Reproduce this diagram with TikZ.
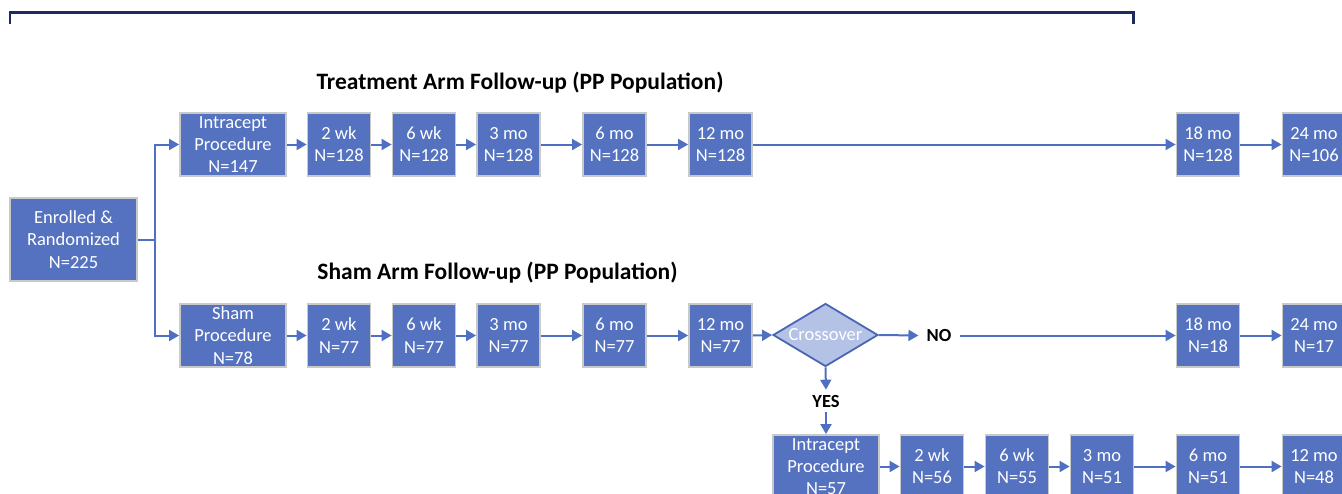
\documentclass[tikz,border=0pt]{standalone}
\usepackage{fontspec}
\setmainfont{Carlito}
\usetikzlibrary{arrows.meta,shapes.geometric}
\definecolor{boxfill}{HTML}{5472C0}
\definecolor{boxborder}{HTML}{C9C9C9}
\definecolor{arrowc}{HTML}{4F6FC2}
\definecolor{diafill}{HTML}{B4C2E6}
\definecolor{diaborder}{HTML}{4A65B3}
\definecolor{navy}{HTML}{1C2A5E}
\tikzset{
  box/.style={draw=boxborder, fill=boxfill, line width=1.8pt, text=white, align=center,
    inner sep=0pt, minimum height=63pt, font=\fontsize{18.5}{22.2}\selectfont},
  wbox/.style={box, minimum width=106pt},
  sbox/.style={box, minimum width=63pt},
  arr/.style={draw=arrowc, line width=2pt, -{Triangle[length=10pt,width=11pt]}},
  ln/.style={draw=arrowc, line width=2pt},
  ttl/.style={font=\fontsize{23.5}{26}\selectfont\bfseries, anchor=base, inner sep=0pt},
  lbl/.style={font=\fontsize{18.5}{22}\selectfont\bfseries, inner sep=0pt},
  crossover/.style={diamond, aspect=1.667, draw=diaborder, fill=diafill, line width=1.8pt,
    inner sep=0pt, minimum width=105pt, minimum height=63pt, text=white,
    font=\fontsize{18.5}{22.2}\selectfont}
}
\begin{document}
\begin{tikzpicture}[x=1pt,y=-1pt]
\useasboundingbox (0,0) rectangle (1342,493);
\clip (0,0) rectangle (1342,493);
% bracket
\draw[navy, line width=2.6pt] (10,24) -- (10,12.5) -- (1133.5,12.5) -- (1133.5,24);
% titles
\node[ttl] (t1) at (520,89) {Treatment Arm Follow-up (PP Population)};
\node[ttl] (t2) at (497.5,279) {Sham Arm Follow-up (PP Population)};
% enrolled
\node[box, minimum width=127pt, minimum height=83pt] (en) at (73.5,239.5) {Enrolled \&\\Randomized\\N=225};
% row 1
\node[wbox] (a0) at (233,144.5) {Intracept\\Procedure\\N=147};
\node[sbox] (a1) at (339,144.5) {2 wk\\N=128};
\node[sbox] (a2) at (424,144.5) {6 wk\\N=128};
\node[sbox] (a3) at (508.5,144.5) {3 mo\\N=128};
\node[sbox] (a4) at (614.5,144.5) {6 mo\\N=128};
\node[sbox] (a5) at (720.5,144.5) {12 mo\\N=128};
\node[sbox] (a6) at (1208,144.5) {18 mo\\N=128};
\node[sbox] (a7) at (1314,144.5) {24 mo\\N=106};
% row 2
\node[wbox] (b0) at (233,335.5) {Sham\\Procedure\\N=78};
\node[sbox] (b1) at (339,335.5) {2 wk\\N=77};
\node[sbox] (b2) at (424,335.5) {6 wk\\N=77};
\node[sbox] (b3) at (508.5,335.5) {3 mo\\N=77};
\node[sbox] (b4) at (614.5,335.5) {6 mo\\N=77};
\node[sbox] (b5) at (720.5,335.5) {12 mo\\N=77};
\node[crossover] (cx) at (825.5,335) {Crossover};
\node[lbl] (no) at (939,335.5) {NO};
\node[sbox] (b6) at (1208,335.5) {18 mo\\N=18};
\node[sbox] (b7) at (1314,335.5) {24 mo\\N=17};
% row 3
\node[lbl] (yes) at (826,401) {YES};
\node[wbox] (c0) at (826,466.5) {Intracept\\Procedure\\N=57};
\node[sbox] (c1) at (932,466.5) {2 wk\\N=56};
\node[sbox] (c2) at (1017,466.5) {6 wk\\N=55};
\node[sbox] (c3) at (1102,466.5) {3 mo\\N=51};
\node[sbox] (c4) at (1208,466.5) {6 mo\\N=51};
\node[sbox] (c5) at (1314,466.5) {12 mo\\N=48};
% connectors
\coordinate (br) at (155,239.5);
\draw[ln] (en.east) -- (br);
\draw[arr] (br) |- (a0.west);
\draw[arr] (br) |- (b0.west);
\foreach \p/\q in {a0/a1,a1/a2,a2/a3,a3/a4,a4/a5,a5/a6,a6/a7,
                   b0/b1,b1/b2,b2/b3,b3/b4,b4/b5,b6/b7,
                   c0/c1,c1/c2,c2/c3,c3/c4,c4/c5}
  \draw[arr] (\p.east) -- (\q.west);
\draw[arr] (b5.east) -- (cx.west);
\draw[arr] (cx.east) -- ([xshift=-8pt]no.west);
\draw[arr] ([xshift=8pt]no.east) -- (b6.west);
\draw[arr] (cx.south) -- ([yshift=5pt]yes.north);
\draw[arr] ([yshift=-5pt]yes.south) -- (c0.north);
\end{tikzpicture}
\end{document}
